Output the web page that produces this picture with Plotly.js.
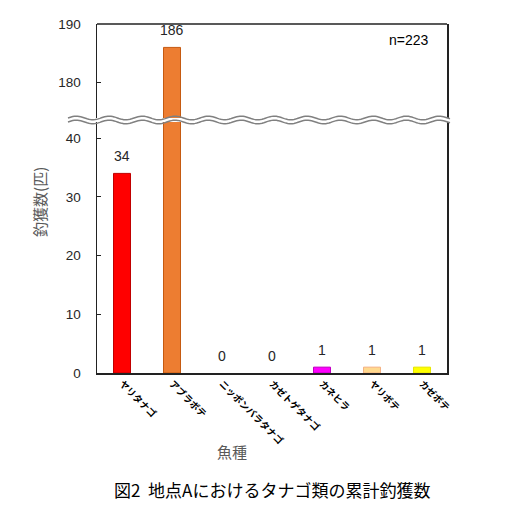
<!DOCTYPE html>
<html>
<head>
<meta charset="utf-8">
<script src="https://cdn.plot.ly/plotly-3.0.1.min.js"></script>
<style>html,body{margin:0;padding:0;background:#fff}#chart{width:513px;height:513px}</style>
</head>
<body>
<div id="chart"></div>
<script>
const categories = ["ヤリタナゴ","アブラボテ","ニッポンバラタナゴ","カゼトゲタナゴ","カネヒラ","ヤリボテ","カゼボテ"];
const counts = [34, 186, 0, 0, 1, 1, 1];
const barColors = ["#ff0000","#ed7d31","#ff0000","#ff0000","#ff00ff","#ffd98e","#ffff00"];
const barLines = ["#c00000","#c55a11","#c00000","#c00000","#c000c0","#f4b183","#e6e600"];
const lowerTicks = [0,10,20,30,40];
const upperTicks = [180,190];
const totalLabel = "n=223";

const lowerMax = 43.1, upperMin = 173.6, upperMax = 190;
const split = 0.725;

const lowerTrace = {
  type:'bar', x:categories, y:counts, xaxis:'x', yaxis:'y',
  marker:{color:barColors, line:{color:barLines, width:counts.map(v => v > 0 ? 1 : 0)}},
  width:0.34, hoverinfo:'skip', showlegend:false
};
const upperTrace = Object.assign({}, lowerTrace, {yaxis:'y2'});

const annotations = [];
counts.forEach((v,i)=>{
  const upper = v > lowerMax;
  annotations.push({x:categories[i], y:v, xref:'x', yref: upper?'y2':'y', text:String(v),
    showarrow:false, yanchor:'bottom', yshift:7,
    font:{family:'Liberation Sans, Arial, sans-serif', size:14, color:'#262626'}});
});
annotations.push({x:0.955, y:0.955, xref:'paper', yref:'paper', xanchor:'right', yanchor:'middle',
  text:totalLabel, showarrow:false, font:{family:'Liberation Sans, Arial, sans-serif', size:14, color:'#000'}});
annotations.push({x:-0.163, y:0.49, xref:'paper', yref:'paper', text:'釣獲数(匹)', textangle:-90,
  xanchor:'center', yanchor:'middle', showarrow:false, font:{family:'Noto Sans CJK JP', size:15, color:'#595959'}});
annotations.push({x:0.385, y:-0.225, xref:'paper', yref:'paper', text:'魚種', yanchor:'middle',
  showarrow:false, font:{family:'Noto Sans CJK JP', size:15, color:'#595959'}});
annotations.push({x:0.5, y:-0.335, xref:'paper', yref:'paper', text:'図2  地点Aにおけるタナゴ類の累計釣獲数', yanchor:'middle',
  showarrow:false, font:{family:'Noto Sans CJK JP', size:17, color:'#000'}});

// wavy break decoration (paper coords)
function wavePath(y0){
  const plotW = 350, plotH = 349;
  const x0 = -29/plotW, x1 = 3/plotW, wl = 33/plotW, amp = 1.8/plotH;
  let d = '';
  const n = 240;
  for(let k=0;k<=n;k++){
    const x = x0 + (x1 + 1 - x0)*k/n;
    const y = y0 + amp*Math.sin(2*Math.PI*(x - x0)/wl);
    d += (k===0?'M':'L') + x.toFixed(5) + ',' + y.toFixed(5);
  }
  return d;
}
const gap = 2/349;
const shapes = [
  {type:'line', xref:'paper', yref:'paper', x0:0, x1:1, y0:1, y1:1, line:{color:'#222', width:1.5}},
  {type:'rect', xref:'paper', yref:'paper', x0:-29/350, x1:1+3/350, y0:split-gap, y1:split+gap, line:{width:0}, fillcolor:'#fff', layer:'above'},
  {type:'path', xref:'paper', yref:'paper', path:wavePath(split+gap), line:{color:'#808080', width:1.5}, layer:'above'},
  {type:'path', xref:'paper', yref:'paper', path:wavePath(split-gap), line:{color:'#808080', width:1.5}, layer:'above'}
];

const tickFont = {family:'Liberation Sans, Arial, sans-serif', size:13.5, color:'#262626'};
const layout = {
  width:513, height:513,
  margin:{l:97, r:66, t:24, b:140},
  paper_bgcolor:'#fff', plot_bgcolor:'#fff',
  xaxis:{type:'category', range:[-0.5,6.5], showline:true, linecolor:'#222', linewidth:1.5,
    ticks:'', tickangle:45, tickfont:{family:'Noto Sans CJK JP', size:9.5, color:'#000', weight:'bold'}, showgrid:false, zeroline:false, fixedrange:true},
  yaxis:{domain:[0,split], range:[0,lowerMax], tickvals:lowerTicks, ticks:'inside', ticklen:4, tickcolor:'#222',
    showline:true, mirror:true, linecolor:'#222', linewidth:1.5, showgrid:false, zeroline:false,
    tickfont:tickFont, ticklabelstandoff:12},
  yaxis2:{domain:[split,1], range:[upperMin,upperMax], tickvals:upperTicks, ticks:'inside', ticklen:4, tickcolor:'#222',
    showline:true, mirror:true, linecolor:'#222', linewidth:1.5, showgrid:false, zeroline:false,
    tickfont:tickFont, ticklabelstandoff:12, anchor:'x'},
  annotations:annotations, shapes:shapes, showlegend:false
};
Plotly.newPlot('chart',[lowerTrace, upperTrace], layout, {staticPlot:true});
</script>
</body>
</html>
